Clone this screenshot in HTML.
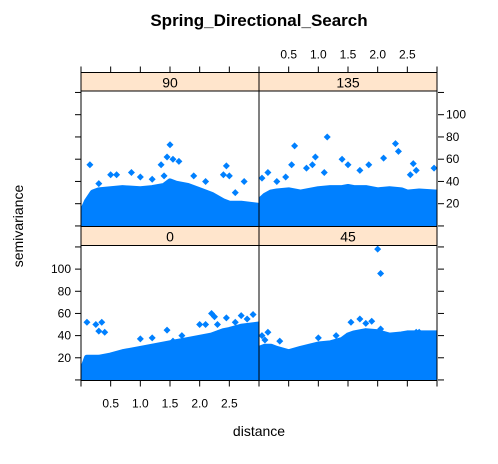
<!DOCTYPE html>
<html><head><meta charset="utf-8"><style>
body{margin:0;background:#fff}
svg text{font-family:"Liberation Sans",Arial,sans-serif}
</style></head><body>
<svg id="chart" width="498" height="459" xmlns="http://www.w3.org/2000/svg">
<rect width="498" height="459" fill="#fff"/>
<text x="259" y="26" text-anchor="middle" font-size="17" font-weight="bold">Spring_Directional_Search</text>
<text x="259" y="436" text-anchor="middle" font-size="14">distance</text>
<text transform="translate(23,226) rotate(-90)" text-anchor="middle" font-size="14">semivariance</text>
<g id="plots"></g>
</svg>
<script>
const xTicks=[0,0.5,1,1.5,2,2.5,3];
const xTickLabels=["","0.5","1.0","1.5","2.0","2.5",""];
const yTicks=[0,20,40,60,80,100,120];
const yTickLabels=["","20","40","60","80","100",""];
const panelNames=["90","135","0","45"];
const envX=[0,0.1,0.2,0.3,0.5,0.7,1.0,1.2,1.4,1.5,1.6,1.8,2.0,2.2,2.4,2.5,2.7,3.0];
const env90=[10,22,30,32,33,34,33,34,36,40,38,36,32,28,22,20,20,18];
const env135=[22,27,30,31,32,30,33,34,34,35,34,34,32,33,32,30,31,30];
const env0=[5,20,20,20,22,25,28,30,32,33,34,36,38,40,44,45,48,50];
const env45=[28,30,30,28,25,28,32,33,36,40,42,44,43,40,41,42,42,42];
const out90x=[0.15,1.5,1.45,1.55,1.65,2.45,2.4,2.5,2.75,0.5,0.6,0.85,1.35,1.4,2.6,1.9,2.1,0.3,1.0,1.2];
const out90y=[55,73,62,60,58,54,46,45,40,46,46,48,55,45,30,45,40,38,44,42];
const out135x=[0.6,1.15,2.3,2.35,2.1,0.95,1.4,1.5,0.55,0.8,0.9,2.6,2.65,2.95,1.85,0.05,0.15,2.55,1.7,1.1,0.3,0.45];
const out135y=[72,80,74,67,61,62,60,55,55,52,55,56,50,52,55,43,48,46,50,48,40,44];
const out0x=[0.1,0.25,0.35,0.4,0.3,1.45,1.7,2.0,2.1,2.2,2.25,2.45,2.7,2.9,2.8,1.55,2.6,2.3,1.0,1.2];
const out0y=[52,50,52,43,44,45,40,50,50,60,57,56,58,59,55,35,52,50,37,38];
const out45x=[2.0,2.05,1.7,1.8,1.9,1.55,2.05,2.65,2.7,1.0,0.15,0.1,0.35,2.9,1.3,0.05];
const out45y=[118,96,55,51,53,52,46,43,43,38,43,36,35,38,40,40];
const envs=[env90,env135,env0,env45];
const outX=[out90x,out135x,out0x,out45x];
const outY=[out90y,out135y,out0y,out45y];
const NS="http://www.w3.org/2000/svg";
const g=document.getElementById('plots');
const L=81,M=259,R=438,W=M-L;
const panels=[{x0:L,top:91,bot:226.5,st:72.5},{x0:M,top:91,bot:226.5,st:72.5},{x0:L,top:245.5,bot:380.5,st:226.5},{x0:M,top:245.5,bot:380.5,st:226.5}];
const xmin=0,xmax=3.0,ymin=-0.5,ymax=121.3;
function mk(t,a,p){const e=document.createElementNS(NS,t);for(const k in a)e.setAttribute(k,a[k]);(p||g).appendChild(e);return e;}
panels.forEach((p,i)=>{
  const sx=v=>p.x0+(v-xmin)/(xmax-xmin)*W;
  const sy=v=>p.bot-(v-ymin)/(ymax-ymin)*(p.bot-p.top);
  const pg=mk('g',{});
  
  
  const cid='clip'+i;
  const cp=mk('clipPath',{id:cid},pg);mk('rect',{x:p.x0,y:p.top,width:W,height:p.bot-p.top},cp);
  const dg=mk('g',{'clip-path':'url(#'+cid+')'},pg);
  let d='M'+sx(envX[0])+','+sy(0);
  envX.forEach((x,j)=>{d+=' L'+sx(x)+','+sy(envs[i][j]);});
  d+=' L'+sx(envX[envX.length-1])+','+(p.bot+5)+' L'+sx(envX[0])+','+(p.bot+5)+'Z';
  const area=mk('path',{d:d,fill:'#0080FF',stroke:'#0080FF','stroke-width':6,'stroke-linejoin':'round'},dg);
  
  
  outX[i].forEach((x,j)=>{
    const cx=sx(x),cy=sy(outY[i][j]);
    const pt=mk('path',{d:`M${cx},${cy-3.5}L${cx+3.5},${cy}L${cx},${cy+3.5}L${cx-3.5},${cy}Z`,fill:'#0080FF'},dg);
    
    
  });
  const strip=mk('rect',{x:p.x0,y:p.st,width:W,height:p.top-p.st,fill:'#FFE5CC',stroke:'#000','stroke-width':1},pg);
  
  
  const st=mk('text',{x:p.x0+W/2,y:p.st+15,'text-anchor':'middle','font-size':14},pg);st.textContent=panelNames[i];
  
  
  mk('rect',{x:p.x0,y:p.top,width:W,height:p.bot-p.top,fill:'none',stroke:'#000','stroke-width':1},pg);
  // ticks
  const ax=mk('g',{stroke:'#000','stroke-width':1},pg);
  if(i===2||i===3){xTicks.forEach((t,k)=>{mk('line',{x1:sx(t),x2:sx(t),y1:p.bot,y2:p.bot+6},ax);
    if(i===2&&xTickLabels[k]){const tx=mk('text',{x:sx(t),y:p.bot+27,'text-anchor':'middle','font-size':12},pg);tx.textContent=xTickLabels[k];
      }});}
  if(i===0||i===1){xTicks.forEach((t,k)=>{mk('line',{x1:sx(t),x2:sx(t),y1:p.st,y2:p.st-6},ax);
    if(i===1&&xTickLabels[k]){const tx=mk('text',{x:sx(t),y:p.st-14,'text-anchor':'middle','font-size':12},pg);tx.textContent=xTickLabels[k];
      }});}
  if(i===0||i===2){yTicks.forEach((t,k)=>{if(sy(t)<p.top-0.5)return;mk('line',{x1:L,x2:L-6,y1:sy(t),y2:sy(t)},ax);
    if(i===2&&yTickLabels[k]){const tx=mk('text',{x:L-10,y:sy(t)+4,'text-anchor':'end','font-size':12},pg);tx.textContent=yTickLabels[k];
      }});}
  if(i===1||i===3){yTicks.forEach((t,k)=>{if(sy(t)<p.top-0.5)return;mk('line',{x1:R,x2:R+6,y1:sy(t),y2:sy(t)},ax);
    if(i===1&&yTickLabels[k]){const tx=mk('text',{x:R+8,y:sy(t)+4,'text-anchor':'start','font-size':12},pg);tx.textContent=yTickLabels[k];
      }});}
});
</script>
</body></html>
